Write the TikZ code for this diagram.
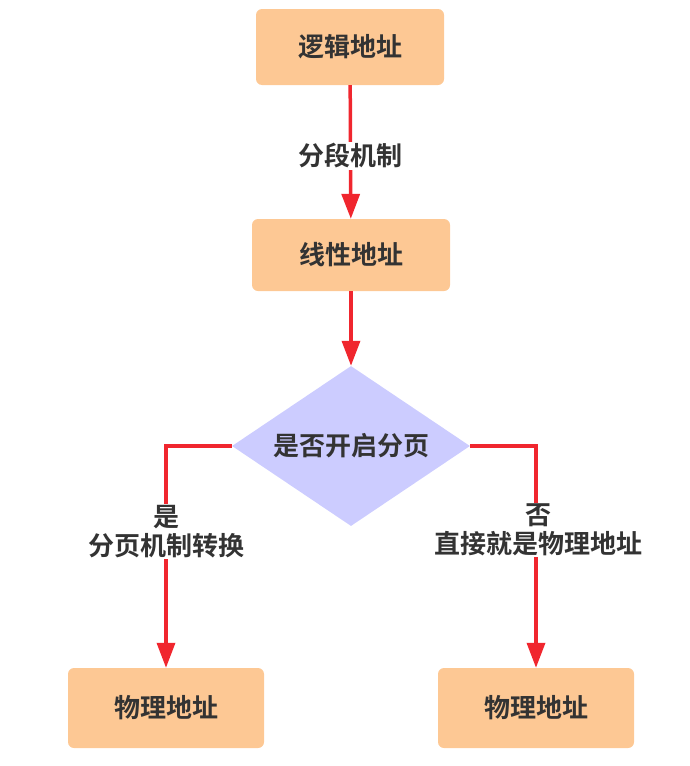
\documentclass[tikz,border=0pt]{standalone}
\usepackage{fontspec}
\setmainfont{Noto Sans CJK SC}[BoldFont={Noto Sans CJK SC Bold}]
\usetikzlibrary{shapes.geometric,arrows.meta}
\definecolor{boxfill}{HTML}{FDC894}
\definecolor{diafill}{HTML}{CCCCFF}
\definecolor{linered}{HTML}{F0262E}
\definecolor{txt}{HTML}{333333}
\begin{document}
\begin{tikzpicture}[x=1pt,y=-1pt,
  every node/.style={font=\fontsize{26}{29}\selectfont\bfseries, text=txt},
  box/.style={fill=boxfill, rounded corners=6pt, minimum width=#1, inner sep=0pt},
  dia/.style={diamond, fill=diafill, aspect=1.49, minimum width=238pt, minimum height=160pt, inner sep=0pt},
  conn/.style={draw=linered, line width=3.5pt, -{Triangle[length=25pt,width=18pt]}},
  lbl/.style={fill=white, inner sep=2pt, align=center}]
\useasboundingbox (0,0) rectangle (690,766);
\node[box=188pt, minimum height=76pt] (a) at (350,47) {逻辑地址};
\node[box=198pt, minimum height=72pt] (b) at (351,255) {线性地址};
\node[dia] (c) at (351,446) {是否开启分页};
\node[box=196pt, minimum height=80pt] (d) at (166,708) {物理地址};
\node[box=196pt, minimum height=80pt] (e) at (536,708) {物理地址};
\coordinate (cl) at (166,446);
\coordinate (cr) at (536,446);
\draw[conn] (a) -- node[lbl, pos=0.53] {分段机制} (b);
\draw[conn] (b) -- (c);
\draw[conn] (c.west) -- (cl) -- node[lbl, pos=0.385, inner sep=1pt] {是\\分页机制转换} (d);
\draw[conn] (c.east) -- (cr) -- node[lbl, pos=0.38, inner sep=1pt, xshift=2pt] {否\\直接就是物理地址} (e);
\end{tikzpicture}
\end{document}
